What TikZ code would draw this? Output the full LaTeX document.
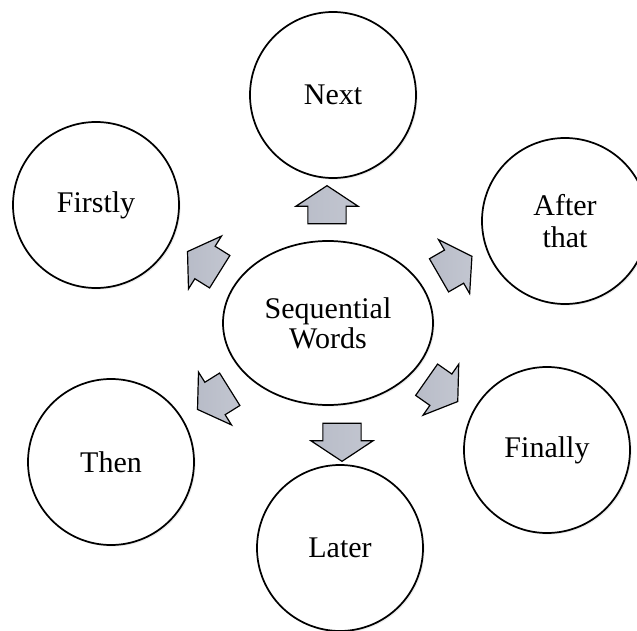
\documentclass[tikz,border=0pt]{standalone}
\usepackage{fontspec}
\setmainfont{Liberation Serif}
\usetikzlibrary{shapes.geometric,shapes.arrows,shadows}

\definecolor{arrowgray}{RGB}{184,188,200}
\definecolor{arrowlight}{RGB}{236,237,241}

\tikzset{
  wordcircle/.style={circle, draw=black, line width=1.3pt, fill=white, minimum size=124.5pt, inner sep=0pt, align=center, font=\fontsize{22.5}{24}\selectfont, drop shadow={opacity=0.15, shadow xshift=1.2pt, shadow yshift=-1.2pt}},
  blockarr/.style={single arrow, draw=black, line width=0.9pt, inner xsep=0pt, inner ysep=13.9pt, minimum height=28.5pt, single arrow head extend=9pt, single arrow tip angle=113, left color=arrowgray, middle color=arrowlight, right color=arrowgray!85},
}

\begin{document}
\begin{tikzpicture}[x=0.75pt,y=0.75pt,yscale=-1,xscale=1]
    \useasboundingbox (0,0) rectangle (637,631);

    %Shape: Ellipse
    \node [ellipse, draw=black, line width=1.3pt, fill=white, minimum width=157.5pt, minimum height=123pt, inner sep=0pt, align=center, font=\fontsize{22.5}{22.5}\selectfont, drop shadow={opacity=0.15, shadow xshift=1.2pt, shadow yshift=-1.2pt}] (seq) at (328,323) {Sequential\\Words};

    %Shape: Circle
    \node [wordcircle] (next) at (333,95) {Next};
    %Shape: Circle
    \node [wordcircle] (firstly) at (96,205) {Firstly};
    %Shape: Circle
    \node [wordcircle] (after) at (565,221) {After\\that};
    %Shape: Circle
    \node [wordcircle] (then) at (111,462) {Then};
    %Shape: Circle
    \node [wordcircle] (finally) at (547,450) {Finally};
    %Shape: Circle
    \node [wordcircle] (later) at (340,548) {Later};

    %Shape: Right Arrow
    \node [blockarr, rotate=90] (aNext) at (327,211) {};
    %Shape: Right Arrow
    \node [blockarr, rotate=148] (aFirstly) at (209,265) {};
    %Shape: Right Arrow
    \node [blockarr, rotate=30] (aAfter) at (450,269) {};
    %Shape: Right Arrow
    \node [blockarr, rotate=212] (aThen) at (219,396) {};
    %Shape: Right Arrow
    \node [blockarr, rotate=-35] (aFinally) at (437,387) {};
    %Shape: Right Arrow
    \node [blockarr, rotate=-90] (aLater) at (342,436) {};
\end{tikzpicture}
\end{document}
